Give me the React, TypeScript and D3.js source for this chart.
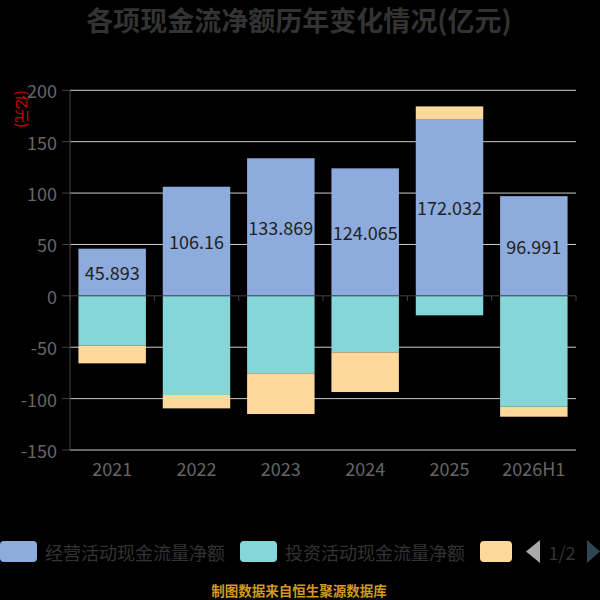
import { useEffect, useRef } from "react";
import * as d3 from "d3";

const YEARS = ["2021", "2022", "2023", "2024", "2025", "2026H1"];
const OPERATING = [45.893, 106.16, 133.869, 124.065, 172.032, 96.991];
const INVESTING = [-48.5, -96.5, -75.4, -55.0, -19.0, -107.9];
const FINANCING = [-17.2, -13.0, -39.6, -38.6, 12.3, -9.7];
const SERIES = ["经营活动现金流量净额", "投资活动现金流量净额", "筹资活动现金流量净额"];
const COLORS = ["#8DACDD", "#86D5D9", "#FFD99B"];
const Y_TICKS = [200, 150, 100, 50, 0, -50, -100, -150];

const FONT = "'Noto Sans CJK SC', 'Noto Sans', sans-serif";

export default function App() {
  const svgRef = useRef<SVGSVGElement>(null);

  useEffect(() => {
    document.body.style.margin = "0";
    document.body.style.background = "#000";
    if (!svgRef.current) return;
    const W = 600, H = 600;
    const svg = d3.select(svgRef.current).attr("width", W).attr("height", H);
    svg.selectAll("*").remove();
    svg.append("rect").attr("width", W).attr("height", H).attr("fill", "#000");

    const x = d3.scaleBand().domain(YEARS).range([70, 576]);
    const y = d3.scaleLinear().domain([-150, 200]).range([450, 90.3]);
    const bw = x.bandwidth() * 0.8;

    // grid
    Y_TICKS.forEach(t => {
      if (t === 0) return;
      svg.append("line").attr("x1", 70).attr("x2", 576).attr("y1", y(t)).attr("y2", y(t))
        .attr("stroke", "#cccccc").attr("stroke-width", 1);
    });

    // stacked bars (diverging)
    const rows = YEARS.map((yr, i) => ({ yr, a: OPERATING[i], b: INVESTING[i], c: FINANCING[i] }));
    const stack = d3.stack<any>().keys(["a", "b", "c"]).offset(d3.stackOffsetDiverging);
    const layers = stack(rows);
    layers.forEach((layer, li) => {
      layer.forEach((d, i) => {
        const y0 = y(d[0]), y1 = y(d[1]);
        svg.append("rect")
          .attr("x", x(YEARS[i])! + x.bandwidth() * 0.1)
          .attr("y", Math.min(y0, y1))
          .attr("width", bw)
          .attr("height", Math.abs(y1 - y0))
          .attr("fill", COLORS[li]);
      });
    });

    // value labels on operating series
    layers[0].forEach((d, i) => {
      svg.append("text")
        .attr("x", x(YEARS[i])! + x.bandwidth() / 2)
        .attr("y", (y(d[0]) + y(d[1])) / 2)
        .attr("text-anchor", "middle").attr("dominant-baseline", "central")
        .attr("font-family", FONT).attr("font-size", 18).attr("fill", "#222")
        .text(String(OPERATING[i]));
    });

    // y axis
    svg.append("line").attr("x1", 70).attr("x2", 70).attr("y1", y(200)).attr("y2", y(-150))
      .attr("stroke", "#444").attr("stroke-width", 1);
    Y_TICKS.forEach(t => {
      svg.append("line").attr("x1", 62).attr("x2", 70).attr("y1", y(t)).attr("y2", y(t))
        .attr("stroke", "#444");
      svg.append("text").attr("x", 57).attr("y", y(t))
        .attr("text-anchor", "end").attr("dominant-baseline", "central")
        .attr("font-family", FONT).attr("font-size", 18).attr("fill", "#666")
        .text(String(t));
    });

    // x axis on zero
    svg.append("line").attr("x1", 70).attr("x2", 576).attr("y1", y(0)).attr("y2", y(0))
      .attr("stroke", "#444").attr("stroke-width", 1);
    [...YEARS.map(yr => x(yr)!), 576].forEach(px => {
      svg.append("line").attr("x1", px).attr("x2", px).attr("y1", y(0)).attr("y2", y(0) + 5)
        .attr("stroke", "#444");
    });
    YEARS.forEach(yr => {
      svg.append("text").attr("x", x(yr)! + x.bandwidth() / 2).attr("y", 468)
        .attr("text-anchor", "middle").attr("dominant-baseline", "central")
        .attr("font-family", FONT).attr("font-size", 18).attr("fill", "#666")
        .text(yr);
    });

    // y axis name
    svg.append("text").attr("transform", "translate(23,109) rotate(90)")
      .attr("text-anchor", "middle").attr("dominant-baseline", "central")
      .attr("font-family", FONT).attr("font-size", 14).attr("fill", "#e00000")
      .text("(亿元)");

    // title
    svg.append("text").attr("x", 299).attr("y", 19)
      .attr("text-anchor", "middle").attr("dominant-baseline", "central")
      .attr("font-family", FONT).attr("font-size", 27).attr("font-weight", "bold").attr("fill", "#333")
      .text("各项现金流净额历年变化情况(亿元)");

    // legend
    const legX = [0, 240, 480];
    legX.forEach((lx, i) => {
      svg.append("rect").attr("x", lx).attr("y", 541).attr("width", i === 2 ? 32 : 37).attr("height", 21)
        .attr("rx", 4).attr("fill", COLORS[i]);
      if (i < 2) {
        svg.append("text").attr("x", lx + 45).attr("y", 551.5)
          .attr("dominant-baseline", "central")
          .attr("font-family", FONT).attr("font-size", 18).attr("fill", "#333")
          .text(SERIES[i]);
      }
    });
    // pager
    svg.append("path").attr("d", "M540,540L526,551.5L540,563Z").attr("fill", "#aaa");
    svg.append("text").attr("x", 562).attr("y", 551.5)
      .attr("text-anchor", "middle").attr("dominant-baseline", "central")
      .attr("font-family", FONT).attr("font-size", 18).attr("fill", "#333").text("1/2");
    svg.append("path").attr("d", "M587,540L600,551.5L587,563Z").attr("fill", "#2f4554");

    // footer
    svg.append("text").attr("x", 299).attr("y", 590)
      .attr("text-anchor", "middle").attr("dominant-baseline", "central")
      .attr("font-family", FONT).attr("font-size", 13.5).attr("font-weight", "bold").attr("fill", "#D09A1E")
      .text("制图数据来自恒生聚源数据库");
  }, []);

  return (
    <div style={{ position: "absolute", left: 0, top: 0, width: 600, height: 600, background: "#000" }}>
      <svg ref={svgRef} style={{ display: "block" }} />
    </div>
  );
}
